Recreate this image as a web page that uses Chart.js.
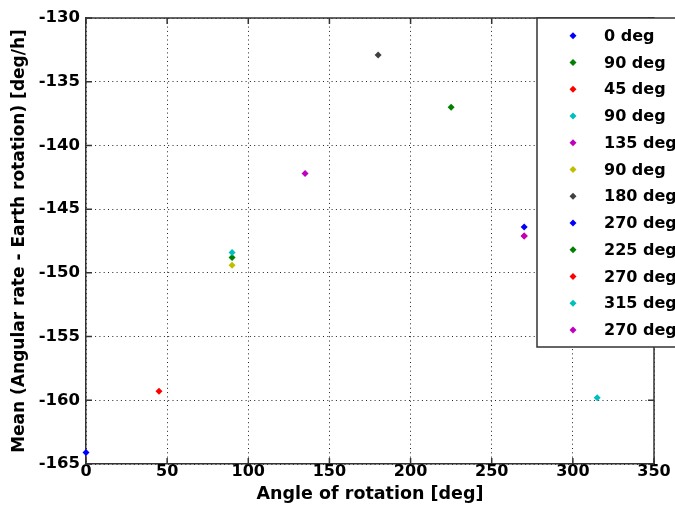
<!DOCTYPE html>
<html><head><meta charset="utf-8">
<script src="https://cdn.jsdelivr.net/npm/chart.js@4.4.1/dist/chart.umd.min.js"></script>
<style>html,body{margin:0;padding:0;background:#fff;overflow:hidden}#wrap{width:675px;height:514px}</style>
</head><body><div id="wrap"><canvas id="c" width="675" height="514"></canvas></div>
<script>
// ---- data ----
const seriesLabels = ['0 deg','90 deg','45 deg','90 deg','135 deg','90 deg','180 deg','270 deg','225 deg','270 deg','315 deg','270 deg'];
const rotationAngles = [0, 90, 45, 90, 135, 90, 180, 270, 225, 270, 315, 270];
const meanRates = [-164.1, -148.8, -159.3, -148.4, -142.2, -149.4, -132.9, -146.4, -137.0, -147.1, -159.8, -147.1];
const xTickValues = [0, 50, 100, 150, 200, 250, 300, 350];
const yTickValues = [-165, -160, -155, -150, -145, -140, -135, -130];
const xTitle = 'Angle of rotation [deg]';
const yTitle = 'Mean (Angular rate - Earth rotation) [deg/h]';

// ---- styles ----
const palette = ['#0000ff','#008000','#ff0000','#00bfbf','#bf00bf','#bfbf00','#404040'];
const FONT = 'DejaVu Sans';
const AXIS_COLOR = '#333';

const datasets = seriesLabels.map((lab, i) => ({
  label: lab,
  data: [{x: rotationAngles[i], y: meanRates[i]}],
  backgroundColor: palette[i % palette.length],
  borderColor: palette[i % palette.length],
  pointStyle: 'rectRot',
  pointRadius: 3.5,
  pointHoverRadius: 3.5,
  borderWidth: 0,
  showLine: false,
  clip: false,
  order: -i
}));

const framePlugin = {
  id: 'frame',
  afterDatasetsDraw(chart) {
    const {ctx, chartArea: a, scales: {x, y}} = chart;
    ctx.save();
    ctx.strokeStyle = AXIS_COLOR;
    ctx.lineWidth = 1.5;
    ctx.beginPath();
    ctx.moveTo(a.left, a.top); ctx.lineTo(a.right, a.top);
    ctx.lineTo(a.right, a.bottom);
    ctx.stroke();
    const tl = 6;
    ctx.beginPath();
    xTickValues.forEach(v => {
      const px = x.getPixelForValue(v);
      ctx.moveTo(px, a.bottom); ctx.lineTo(px, a.bottom - tl);
      ctx.moveTo(px, a.top); ctx.lineTo(px, a.top + tl);
    });
    yTickValues.forEach(v => {
      const py = y.getPixelForValue(v);
      ctx.moveTo(a.left, py); ctx.lineTo(a.left + tl, py);
      ctx.moveTo(a.right, py); ctx.lineTo(a.right - tl, py);
    });
    ctx.stroke();

    // legend box (matlab-style, overlapping the right part)
    const lx = 537, ly = a.top, lw = 200, lh = 347 - a.top;
    ctx.fillStyle = '#fff';
    ctx.fillRect(lx, ly, lw, lh);
    ctx.strokeRect(lx, ly, lw, lh);
    ctx.font = 'bold 16px "' + FONT + '"';
    ctx.textBaseline = 'middle';
    ctx.textAlign = 'left';
    chart.data.datasets.forEach((ds, i) => {
      const ry = 35.7 + i * 26.75;
      ctx.fillStyle = ds.backgroundColor;
      ctx.beginPath();
      const r = 3.5, cx = 573;
      ctx.moveTo(cx, ry - r); ctx.lineTo(cx + r, ry); ctx.lineTo(cx, ry + r); ctx.lineTo(cx - r, ry); ctx.closePath();
      ctx.fill();
      ctx.fillStyle = '#000';
      ctx.fillText(ds.label, 604, ry + 1);
    });
    ctx.restore();
  }
};

new Chart(document.getElementById('c'), {
  type: 'scatter',
  data: { datasets },
  options: {
    responsive: false,
    animation: false,
    devicePixelRatio: 1,
    layout: { padding: { top: 18, right: 21, left: 0, bottom: 0 } },
    plugins: { legend: { display: false }, tooltip: { enabled: false } },
    scales: {
      x: {
        type: 'linear', min: 0, max: 350,
        afterBuildTicks: s => { s.ticks = xTickValues.map(v => ({value: v})); },
        afterFit: s => { s.height = 50; },
        ticks: { color: '#000', padding: -2, font: { family: FONT, weight: 'bold', size: 16 } },
        grid: { color: '#222', lineWidth: 1, drawTicks: false },
        border: { display: true, color: AXIS_COLOR, width: 1.5, dash: [1, 3.3] },
        title: { display: true, text: xTitle, color: '#000', padding: { top: 0, bottom: 9 },
                 font: { family: FONT, weight: 'bold', size: 17.5 } }
      },
      y: {
        type: 'linear', min: -165, max: -130,
        afterBuildTicks: s => { s.ticks = yTickValues.map(v => ({value: v})); },
        afterFit: s => { s.width = 86; },
        ticks: { color: '#000', padding: 6, font: { family: FONT, weight: 'bold', size: 16.5 } },
        grid: { color: '#222', lineWidth: 1, drawTicks: false },
        border: { display: true, color: AXIS_COLOR, width: 1.5, dash: [1, 3.3] },
        title: { display: true, text: yTitle, color: '#000', padding: { top: 9, bottom: 0 },
                 font: { family: FONT, weight: 'bold', size: 17 } }
      }
    }
  },
  plugins: [framePlugin]
});
</script>
</body></html>
